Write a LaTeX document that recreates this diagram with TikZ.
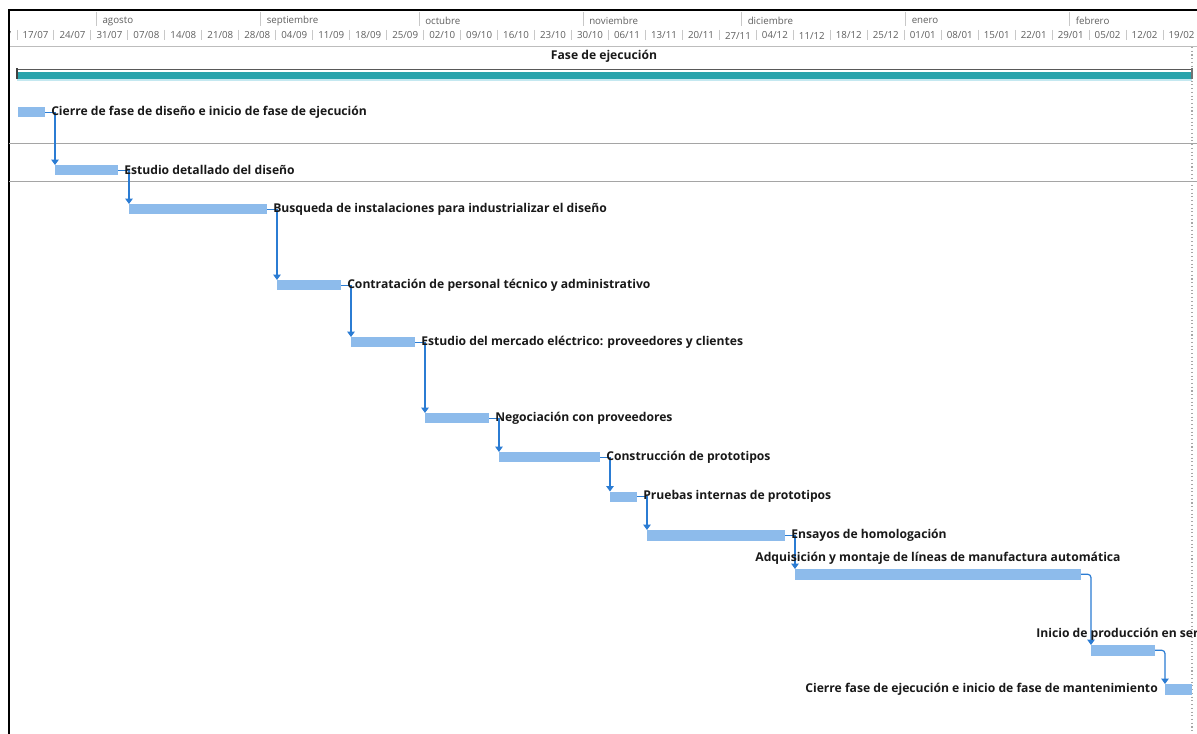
\documentclass[tikz,border=0pt]{standalone}
\usepackage{fontspec}
\setmainfont{Open Sans}
\usetikzlibrary{arrows.meta,fit}

\definecolor{barblue}{RGB}{141,187,235}
\definecolor{linkblue}{RGB}{43,124,211}
\definecolor{sumteal}{RGB}{41,163,172}
\definecolor{sumlight}{RGB}{196,232,240}
\definecolor{hdrtext}{RGB}{95,95,95}
\definecolor{hdrline}{RGB}{200,200,200}
\definecolor{rowline}{RGB}{165,165,165}

\tikzset{
  bar/.style={fill=barblue, draw=none, inner sep=0pt, outer sep=0pt},
  link/.style={draw=linkblue, line width=0.9pt, -{Triangle[width=5.5pt,length=4pt]}},
  lbl/.style={font=\bfseries\fontsize{9.1}{11}\selectfont, text=black!90, inner sep=0pt},
  datelbl/.style={font=\fontsize{7.3}{9}\selectfont, text=hdrtext, inner sep=0pt},
  monthlbl/.style={font=\fontsize{7.3}{9}\selectfont, text=hdrtext, inner sep=0pt, anchor=west},
}

\begin{document}
\begin{tikzpicture}[x=0.75pt, y=-0.75pt]
\clip (0,0) rectangle (1197,734);
\fill[white] (0,0) rectangle (1197,734);

% ---------- timescale header ----------
\foreach \d [count=\i from 0] in {17/07,24/07,31/07,07/08,14/08,21/08,28/08,04/09,11/09,18/09,25/09,02/10,09/10,16/10,23/10,30/10,06/11,13/11,20/11,27/11,04/12,11/12,18/12,25/12,01/01,08/01,15/01,22/01,29/01,05/02,12/02,19/02}{
  \node[datelbl] (d\i) at ({17+36.97*\i+18.5},35.5) {\d};
}
\begin{scope}
  \clip (10,0) rectangle (20,50);
  \node[datelbl] (dprev) at (-1.5,35.5) {10/07};
\end{scope}
\foreach \i in {0,...,32}{
  \draw[hdrline, line width=0.75pt] ({17+36.97*\i},30) -- ({17+36.97*\i},40);
}
\foreach \x/\m in {96.3/agosto,260.5/septiembre,419/octubre,583/noviembre,741.5/diciembre,905.5/enero,1069.5/febrero}{
  \draw[hdrline, line width=0.75pt] (\x,12) -- (\x,26);
  \node[monthlbl] (m\m) at (\x+6,21.3) {\m};
}
\draw[hdrline!85!gray, line width=0.9pt] (9,46.5) -- (1197,46.5);

% ---------- outer frame ----------
\draw[black, line width=1.6pt] (8,10) -- (1197,10);
\draw[black, line width=1.6pt] (9,10) -- (9,734);

% ---------- row separators ----------
\draw[rowline, line width=1.1pt] (9,143.5) -- (1197,143.5);
\draw[rowline, line width=1.1pt] (9,181.5) -- (1197,181.5);

% ---------- project end marker ----------
\draw[gray!70, line width=0.8pt, dotted] (1192,47) -- (1192,734);

% ---------- summary task ----------
\node[lbl] (sumlbl) at (604,56.5) {Fase de ejecución};
\fill[sumteal] (17,72.5) rectangle (1192,79);
\draw[sumlight, line width=0.9pt] (17,80) -- (1192,80);
\draw[black!65, line width=1.3pt] (17,69.5) -- (1192,69.5);
\draw[black!75, line width=2pt] (17,68.5) -- (17,79.5);
\draw[black!55, line width=1.8pt] (1192,68.5) -- (1192,79.5);

% ---------- task bars ----------
\node[bar, fit={(18,107)(45,117.5)}] (b1) {};
\node[bar, fit={(55,165)(118,175.5)}] (b2) {};
\node[bar, fit={(129,204)(267,214.5)}] (b3) {};
\node[bar, fit={(277,280)(341,290.5)}] (b4) {};
\node[bar, fit={(351,337)(415,347.5)}] (b5) {};
\node[bar, fit={(425,413)(489,423.5)}] (b6) {};
\node[bar, fit={(499,452)(600,462.5)}] (b7) {};
\node[bar, fit={(610,491.5)(637,502)}] (b8) {};
\node[bar, fit={(647,530)(785,540.5)}] (b9) {};
\node[bar, fit={(795,569)(1081,579.5)}] (b10) {};
\node[bar, fit={(1091,645)(1155,655.5)}] (b11) {};
\node[bar, fit={(1165,684)(1192,694.5)}] (b12) {};

% ---------- finish-to-start links ----------
\foreach \a/\b in {b1/b2,b2/b3,b3/b4,b4/b5,b5/b6,b6/b7,b7/b8,b8/b9,b9/b10}{
  \draw[link] (\a.east) -- (\a.east -| \b.north west) -- (\b.north west);
}
\foreach \a/\b in {b10/b11,b11/b12}{
  \draw[link, rounded corners=2.5pt] (\a.east) -- (\a.east -| \b.north west) -- (\b.north west);
}

% ---------- task names ----------
\node[lbl, anchor=west] (t1) at ([xshift=4.5pt]b1.east) {Cierre de fase de diseño e inicio de fase de ejecución};
\node[lbl, anchor=west] (t2) at ([xshift=4.5pt]b2.east) {Estudio detallado del diseño};
\node[lbl, anchor=west] (t3) at ([xshift=4.5pt]b3.east) {Busqueda de instalaciones para industrializar el diseño};
\node[lbl, anchor=west] (t4) at ([xshift=4.5pt]b4.east) {Contratación de personal técnico y administrativo};
\node[lbl, anchor=west] (t5) at ([xshift=4.5pt]b5.east) {Estudio del mercado eléctrico: proveedores y clientes};
\node[lbl, anchor=west] (t6) at ([xshift=4.5pt]b6.east) {Negociación con proveedores};
\node[lbl, anchor=west] (t7) at ([xshift=4.5pt]b7.east) {Construcción de prototipos};
\node[lbl, anchor=west] (t8) at ([xshift=4.5pt]b8.east) {Pruebas internas de prototipos};
\node[lbl, anchor=west] (t9) at ([xshift=4.5pt]b9.east) {Ensayos de homologación};
\node[lbl] (t10) at ([yshift=8.3pt]b10.north) {Adquisición y montaje de líneas de manufactura automática};
\node[lbl] (t11) at ([yshift=8.3pt]b11.north) {Inicio de producción en serie};
\node[lbl, anchor=east] (t12) at ([xshift=-5.2pt]b12.west) {Cierre fase de ejecución e inicio de fase de mantenimiento};
\end{tikzpicture}
\end{document}
